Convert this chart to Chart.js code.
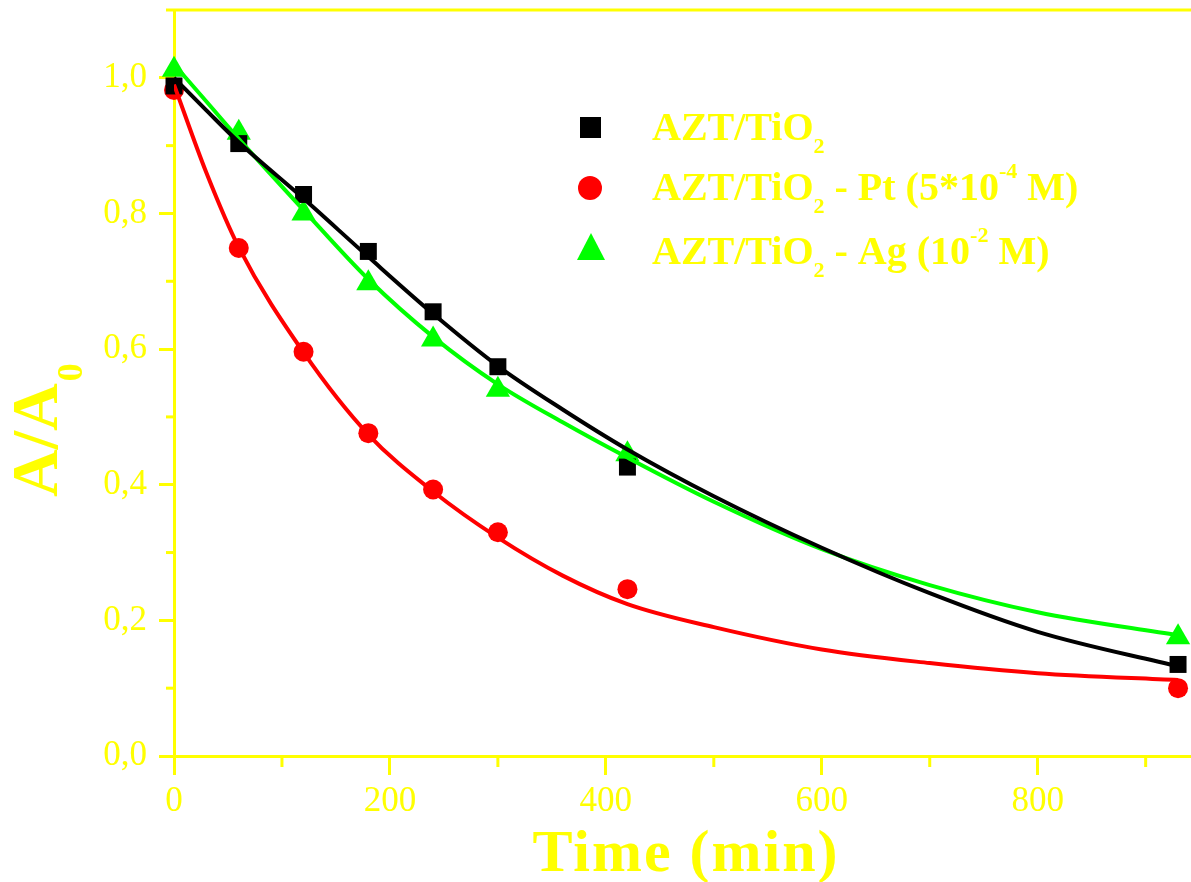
<!DOCTYPE html>
<html>
<head>
<meta charset="utf-8">
<script src="https://cdn.jsdelivr.net/npm/chart.js@4.4.1/dist/chart.umd.min.js"></script>
<title>A/A0 vs time</title>
<style>
  body { margin: 0; background: #fff; }
  canvas { display: block; }
</style>
</head>
<body>
<canvas id="c" width="1191" height="882"></canvas>
<script>
// measured points
const timeMin = [0, 60, 120, 180, 240, 300, 420, 930];
const aztTiO2 = [0.988, 0.903, 0.828, 0.744, 0.655, 0.574, 0.426, 0.135];
const aztPt   = [0.982, 0.749, 0.596, 0.476, 0.393, 0.330, 0.246, 0.100];
const aztAg   = [1.012, 0.919, 0.800, 0.697, 0.614, 0.540, 0.445, 0.175];

// fitted curves
const fitTime  = [0, 30, 60, 120, 180, 240, 300, 360, 420, 500, 600, 700, 800, 930];
const fitTiO2  = [1.0, 0.952, 0.905, 0.822, 0.736, 0.652, 0.575, 0.511, 0.452, 0.383, 0.307, 0.240, 0.183, 0.132];
const fitPt    = [0.99, 0.86, 0.75, 0.595, 0.474, 0.390, 0.322, 0.266, 0.224, 0.190, 0.157, 0.137, 0.122, 0.112];
const fitAg    = [1.02, 0.965, 0.91, 0.805, 0.703, 0.618, 0.548, 0.492, 0.440, 0.375, 0.305, 0.252, 0.212, 0.178];

const xTicks = [0, 200, 400, 600, 800];
const yTicks = [0.0, 0.2, 0.4, 0.6, 0.8, 1.0];

const YEL = '#ffff00';
const SERIF = '"Liberation Serif", "Times New Roman", serif';

const pts = (xs, ys) => xs.map((t, i) => ({x: t, y: ys[i]}));

const isMajorX = v => xTicks.includes(v);
const isMajorY = v => yTicks.some(t => Math.abs(t - v) < 1e-6);

// frame top line, minor ticks, axis titles and legend
const decor = {
  id: 'decor',
  afterDraw(chart) {
    const {ctx, chartArea: a, scales: {x, y}} = chart;
    ctx.save();
    ctx.strokeStyle = YEL;
    ctx.lineWidth = 3;
    ctx.beginPath();
    ctx.moveTo(a.left, a.top);
    ctx.lineTo(a.right, a.top);
    ctx.stroke();

    for (let v = 100; v < x.max; v += 200) {
      const px = x.getPixelForValue(v);
      ctx.beginPath(); ctx.moveTo(px, a.bottom); ctx.lineTo(px, a.bottom + 11); ctx.stroke();
    }
    for (let v = 0.1; v < y.max; v += 0.2) {
      const py = y.getPixelForValue(v);
      ctx.beginPath(); ctx.moveTo(a.left, py); ctx.lineTo(a.left - 8, py); ctx.stroke();
    }

    ctx.fillStyle = YEL;
    // x title
    ctx.font = 'bold 60px ' + SERIF;
    ctx.letterSpacing = '2px';
    ctx.textAlign = 'center';
    ctx.textBaseline = 'alphabetic';
    ctx.fillText('Time (min)', 686, 871);
    ctx.letterSpacing = '0px';

    // y title A/A0
    ctx.save();
    ctx.translate(57, 497);
    ctx.rotate(-Math.PI / 2);
    ctx.textAlign = 'left';
    ctx.font = 'bold 66px ' + SERIF;
    ctx.fillText('A/A', 0, 0);
    const w = ctx.measureText('A/A').width;
    ctx.font = 'bold 36px ' + SERIF;
    ctx.fillText('0', w + 2, 25);
    ctx.restore();

    // legend
    const rows = [
      {mark: 'rect', color: '#000', y: 127, base: 140, sup: null, tail: ''},
      {mark: 'circle', color: '#ff0000', y: 188, base: 200, pre: ' - Pt (5*10', sup: '-4', tail: ' M)'},
      {mark: 'triangle', color: '#00ff00', y: 248, base: 264, pre: ' - Ag (10', sup: '-2', tail: ' M)'}
    ];
    rows.forEach(r => {
      ctx.fillStyle = r.color;
      ctx.beginPath();
      if (r.mark === 'rect') ctx.rect(580, r.y - 10, 21, 21);
      else if (r.mark === 'circle') ctx.arc(590, r.y, 12, 0, Math.PI * 2);
      else { ctx.moveTo(591, r.y - 15); ctx.lineTo(605, r.y + 12); ctx.lineTo(577, r.y + 12); ctx.closePath(); }
      ctx.fill();

      ctx.fillStyle = YEL;
      ctx.textAlign = 'left';
      let cx = 652;
      ctx.font = 'bold 40px ' + SERIF;
      ctx.fillText('AZT/TiO', cx, r.base);
      cx += ctx.measureText('AZT/TiO').width;
      ctx.font = 'bold 22px ' + SERIF;
      ctx.fillText('2', cx, r.base + 13);
      cx += ctx.measureText('2').width;
      if (r.pre) {
        ctx.font = 'bold 40px ' + SERIF;
        ctx.fillText(r.pre, cx, r.base);
        cx += ctx.measureText(r.pre).width;
        ctx.font = 'bold 22px ' + SERIF;
        ctx.fillText(r.sup, cx, r.base - 22);
        cx += ctx.measureText(r.sup).width;
        ctx.font = 'bold 40px ' + SERIF;
        ctx.fillText(r.tail, cx, r.base);
      }
    });
    ctx.restore();
  }
};

const lineSet = (data, color) => ({
  data: data, borderColor: color, borderWidth: 4, pointRadius: 0,
  showLine: true, cubicInterpolationMode: 'monotone', fill: false, order: 0
});
const markSet = (data, color, style, r) => ({
  data: data, backgroundColor: color, borderColor: color, borderWidth: 0,
  pointStyle: style, pointRadius: r, showLine: false, clip: false, order: 1
});

new Chart(document.getElementById('c'), {
  type: 'scatter',
  data: {
    datasets: [
      markSet(pts(timeMin, aztTiO2), '#000000', 'rect', 12),
      markSet(pts(timeMin, aztPt), '#ff0000', 'circle', 10),
      markSet(pts(timeMin, aztAg), '#00ff00', 'triangle', 14),
      lineSet(pts(fitTime, fitTiO2), '#000000'),
      lineSet(pts(fitTime, fitPt), '#ff0000'),
      lineSet(pts(fitTime, fitAg), '#00ff00')
    ]
  },
  options: {
    responsive: false,
    animation: false,
    layout: {autoPadding: false, padding: {left: 0, top: 10, right: 0, bottom: 0}},
    plugins: {legend: {display: false}, tooltip: {enabled: false}},
    scales: {
      x: {
        type: 'linear', min: 0, max: 942,
        border: {color: YEL, width: 3},
        grid: {drawOnChartArea: false, tickLength: 19, tickWidth: 3, tickColor: YEL},
        ticks: {
          stepSize: 100, includeBounds: false, autoSkip: false, maxRotation: 0,
          color: YEL, padding: 6, font: {family: SERIF, size: 35},
          callback: v => isMajorX(v) ? String(v) : null
        },
        afterFit: s => { s.height = 126; s.paddingLeft = 0; s.paddingRight = 0; }
      },
      y: {
        min: 0, max: 1.1,
        border: {color: YEL, width: 3},
        grid: {drawOnChartArea: false, tickLength: 15, tickWidth: 3, tickColor: YEL},
        ticks: {
          stepSize: 0.1, includeBounds: false, autoSkip: false,
          color: YEL, padding: 12, font: {family: SERIF, size: 35},
          callback: v => isMajorY(v) ? v.toFixed(1).replace('.', ',') : null
        },
        afterFit: s => { s.width = 174; s.paddingTop = 0; s.paddingBottom = 0; }
      }
    }
  },
  plugins: [decor]
});
</script>
</body>
</html>
